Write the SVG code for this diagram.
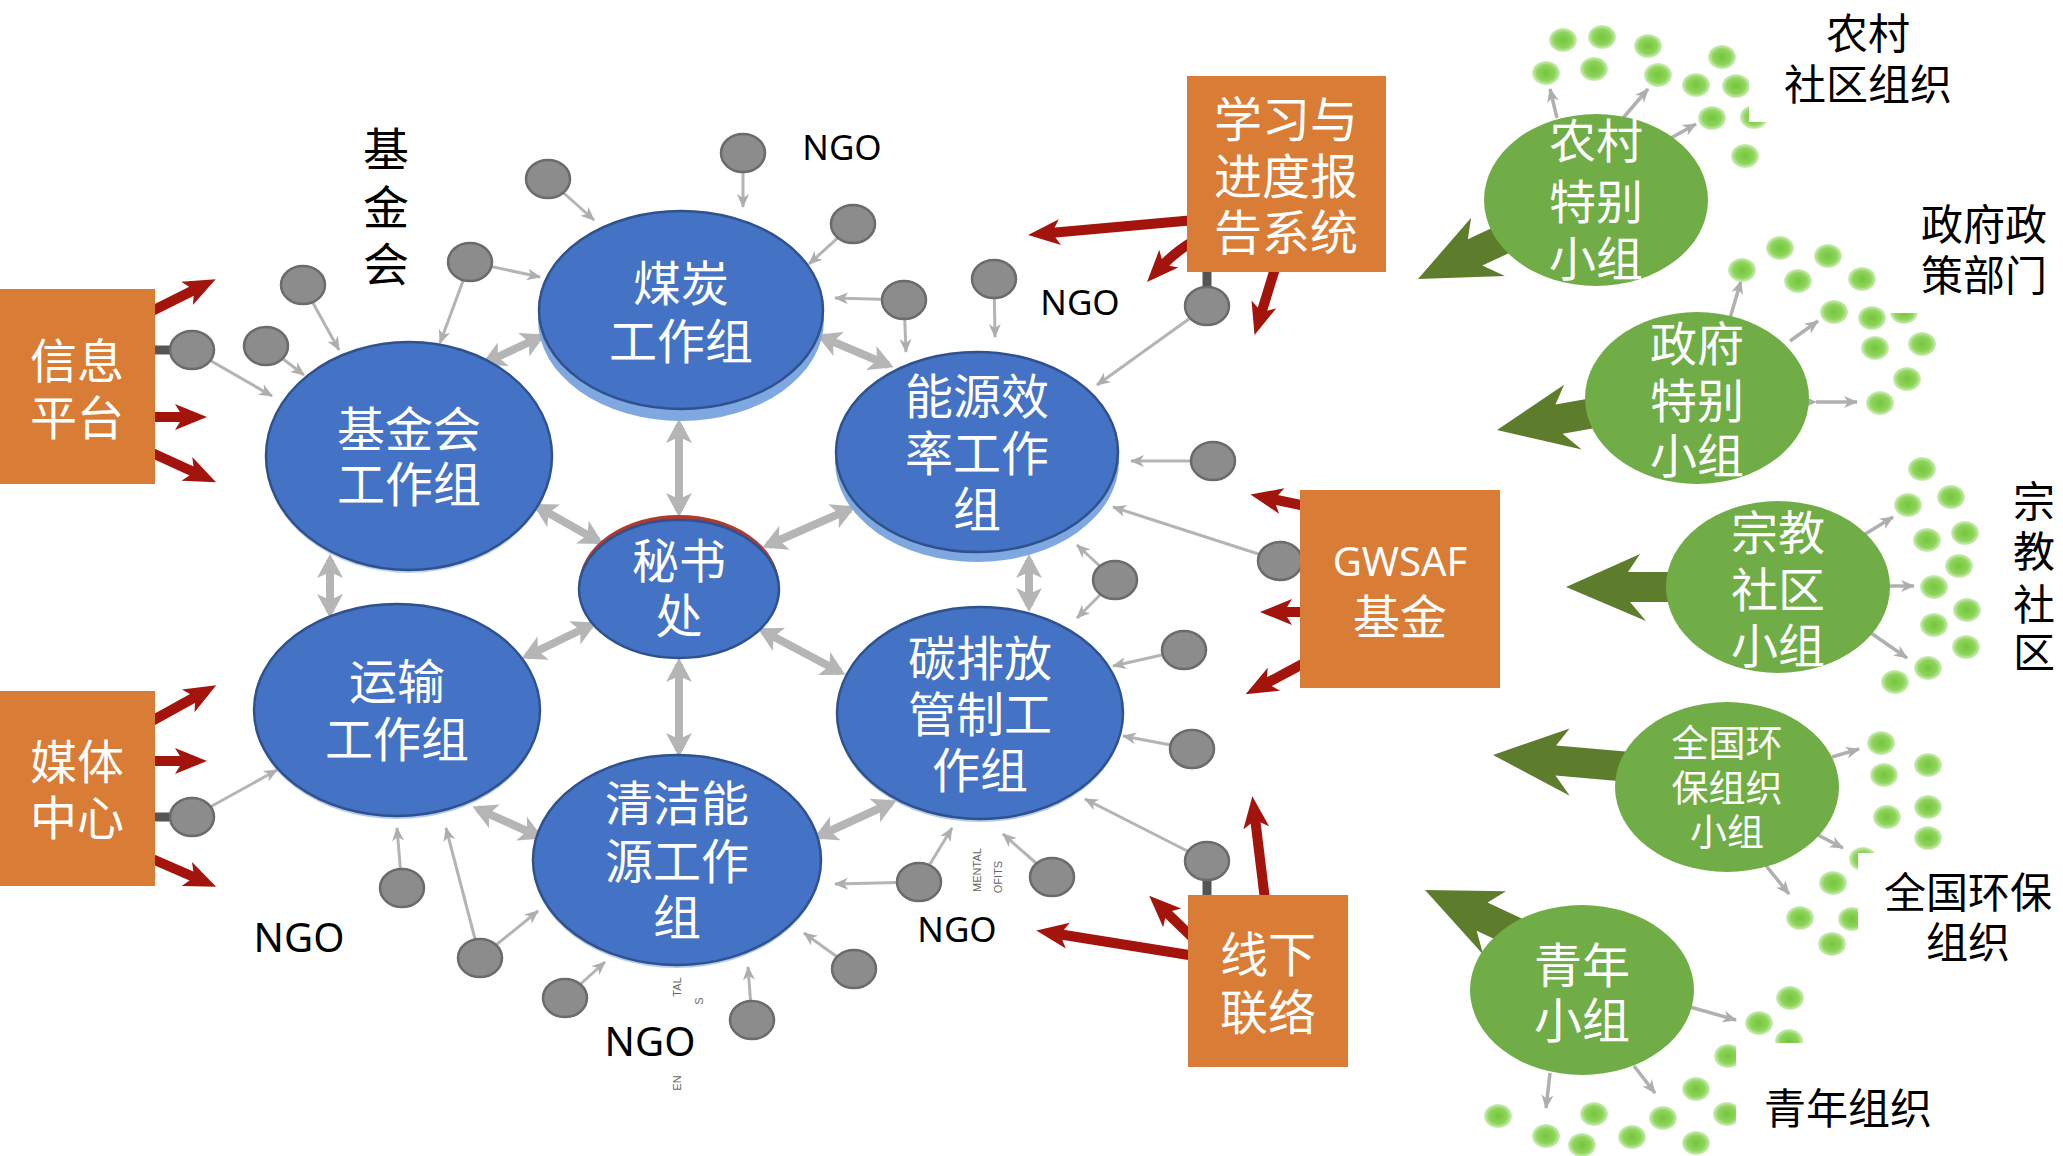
<svg xmlns="http://www.w3.org/2000/svg" width="2063" height="1156" viewBox="0 0 2063 1156">
<style>
.wt{fill:#fff;font-family:"Noto Sans CJK SC","Noto Sans",sans-serif;text-anchor:middle}
.bt{fill:#000;font-family:"Noto Sans CJK SC","Noto Sans",sans-serif;text-anchor:middle}
.ngo{fill:#000;font-family:"Noto Sans","Liberation Sans",sans-serif;text-anchor:middle}
.tiny{fill:#666;font-family:"Liberation Sans",sans-serif;font-size:11px;text-anchor:middle}
.gl{stroke:#B4B4B4;stroke-width:3;fill:none;marker-end:url(#ga)}
.gl2{stroke:#B0B0B0;stroke-width:3.5;fill:none;marker-end:url(#ga)}
.dl{stroke:#B5B5B5;stroke-width:8;fill:none;marker-start:url(#da);marker-end:url(#da)}
.rl{stroke:#A3140C;stroke-width:10;fill:none;marker-end:url(#ra)}
.stub{stroke:#555;stroke-width:9}
.gc{fill:#8C8C8C;stroke:#6B6B6B;stroke-width:2.5}
.gd{fill:url(#gdot)}
.blue{fill:#4472C4;stroke:#2F528F;stroke-width:2.5}
.rim{fill:#7FA8E0}
.org{fill:#D97C35}
.grn{fill:#70AD47}
.garr{fill:#5E7D2C}
</style>
<defs>
<marker id="ga" markerUnits="userSpaceOnUse" markerWidth="14" markerHeight="14" viewBox="0 0 14 14" refX="13" refY="7" orient="auto"><path d="M0,1 L14,7 L0,13 L4,7 Z" fill="#AEAEAE"/></marker>
<marker id="da" markerUnits="userSpaceOnUse" markerWidth="24" markerHeight="26" viewBox="0 0 24 26" refX="18" refY="13" orient="auto-start-reverse"><path d="M0,0 L24,13 L0,26 L6,13 Z" fill="#B5B5B5"/></marker>
<marker id="ra" markerUnits="userSpaceOnUse" markerWidth="32" markerHeight="32" viewBox="0 0 32 32" refX="10" refY="16" orient="auto"><path d="M0,3 L32,16 L0,29 L8,16 Z" fill="#A3140C"/></marker>
<radialGradient id="gdot"><stop offset="0" stop-color="#74C53C"/><stop offset="0.65" stop-color="#8ED55B"/><stop offset="1" stop-color="#D2EEBF"/></radialGradient>
<path id="bigarrow" d="M0,0 L74,-33 L62,-15 L175,-15 L175,15 L64,15 L80,34 Z"/>
</defs>

<g id="connectors">
<line class="dl" x1="487" y1="362" x2="540" y2="337"/>
<line class="dl" x1="538" y1="507" x2="598" y2="541"/>
<line class="dl" x1="679" y1="425" x2="679" y2="511"/>
<line class="dl" x1="822" y1="337" x2="888" y2="365"/>
<line class="dl" x1="768" y1="545" x2="850" y2="509"/>
<line class="dl" x1="1029" y1="560" x2="1029" y2="606"/>
<line class="dl" x1="763" y1="631" x2="840" y2="672"/>
<line class="dl" x1="819" y1="836" x2="891" y2="803"/>
<line class="dl" x1="679" y1="664" x2="679" y2="751"/>
<line class="dl" x1="478" y1="809" x2="538" y2="836"/>
<line class="dl" x1="527" y1="656" x2="591" y2="625"/>
<line class="dl" x1="330" y1="560" x2="330" y2="612"/>
<line class="gl" x1="192" y1="350" x2="272" y2="396"/>
<line class="gl" x1="266" y1="346" x2="304" y2="375"/>
<line class="gl" x1="303" y1="285" x2="339" y2="350"/>
<line class="gl" x1="470" y1="262" x2="440" y2="343"/>
<line class="gl" x1="470" y1="262" x2="540" y2="277"/>
<line class="gl" x1="548" y1="179" x2="594" y2="220"/>
<line class="gl" x1="743" y1="153" x2="743" y2="207"/>
<line class="gl" x1="853" y1="224" x2="809" y2="264"/>
<line class="gl" x1="904" y1="300" x2="835" y2="298"/>
<line class="gl" x1="904" y1="300" x2="906" y2="352"/>
<line class="gl" x1="994" y1="279" x2="995" y2="337"/>
<line class="gl" x1="1207" y1="306" x2="1097" y2="385"/>
<line class="gl" x1="1213" y1="461" x2="1131" y2="461"/>
<line class="gl" x1="1280" y1="561" x2="1113" y2="507"/>
<line class="gl" x1="1115" y1="580" x2="1077" y2="545"/>
<line class="gl" x1="1115" y1="580" x2="1077" y2="618"/>
<line class="gl" x1="1184" y1="650" x2="1113" y2="666"/>
<line class="gl" x1="1192" y1="749" x2="1123" y2="736"/>
<line class="gl" x1="1207" y1="861" x2="1085" y2="799"/>
<line class="gl" x1="1052" y1="877" x2="1003" y2="834"/>
<line class="gl" x1="919" y1="882" x2="952" y2="828"/>
<line class="gl" x1="919" y1="882" x2="835" y2="884"/>
<line class="gl" x1="854" y1="969" x2="804" y2="933"/>
<line class="gl" x1="752" y1="1020" x2="748" y2="967"/>
<line class="gl" x1="565" y1="998" x2="605" y2="962"/>
<line class="gl" x1="480" y1="958" x2="446" y2="828"/>
<line class="gl" x1="480" y1="958" x2="538" y2="911"/>
<line class="gl" x1="402" y1="888" x2="397" y2="828"/>
<line class="gl" x1="192" y1="817" x2="277" y2="770"/>
<line class="stub" x1="150" y1="350" x2="176" y2="350"/>
<line class="stub" x1="150" y1="817" x2="176" y2="817"/>
<line class="stub" x1="1207" y1="268" x2="1207" y2="292"/>
<line class="stub" x1="1207" y1="875" x2="1207" y2="899"/>
<line class="rl" x1="150" y1="312" x2="196" y2="289"/>
<line class="rl" x1="150" y1="417" x2="185" y2="417"/>
<line class="rl" x1="150" y1="452" x2="196" y2="473"/>
<line class="rl" x1="150" y1="722" x2="197" y2="696"/>
<line class="rl" x1="150" y1="761" x2="185" y2="761"/>
<line class="rl" x1="150" y1="858" x2="196" y2="878"/>
<line class="rl" x1="1195" y1="220" x2="1050" y2="233"/>
<path class="rl" d="M1195,240 Q1175,252 1162,266"/>
<line class="rl" x1="1277" y1="262" x2="1261" y2="314"/>
<line class="rl" x1="1310" y1="507" x2="1272" y2="499"/>
<line class="rl" x1="1310" y1="612" x2="1282" y2="612"/>
<line class="rl" x1="1310" y1="660" x2="1265" y2="684"/>
<line class="rl" x1="1265" y1="900" x2="1255" y2="818"/>
<line class="rl" x1="1195" y1="940" x2="1165" y2="911"/>
<line class="rl" x1="1195" y1="956" x2="1058" y2="934"/>
<use href="#bigarrow" class="garr" transform="translate(1418,279) rotate(-25)"/>
<use href="#bigarrow" class="garr" transform="translate(1497,430) rotate(-10)"/>
<use href="#bigarrow" class="garr" transform="translate(1566,587)"/>
<use href="#bigarrow" class="garr" transform="translate(1493,755) rotate(5)"/>
<use href="#bigarrow" class="garr" transform="translate(1425,890) rotate(25)"/>
<line class="gl2" x1="1557" y1="118" x2="1550" y2="89"/>
<line class="gl2" x1="1623" y1="118" x2="1648" y2="89"/>
<line class="gl2" x1="1671" y1="138" x2="1696" y2="124"/>
<line class="gl2" x1="1730" y1="318" x2="1741" y2="281"/>
<line class="gl2" x1="1790" y1="341" x2="1818" y2="321"/>
<line class="gl2" x1="1816" y1="402" x2="1857" y2="402" style="marker-start:url(#ga)"/>
<line class="gl2" x1="1862" y1="536" x2="1893" y2="517"/>
<line class="gl2" x1="1888" y1="586" x2="1914" y2="586"/>
<line class="gl2" x1="1868" y1="631" x2="1907" y2="658"/>
<line class="gl2" x1="1832" y1="757" x2="1859" y2="749"/>
<line class="gl2" x1="1816" y1="834" x2="1843" y2="848"/>
<line class="gl2" x1="1763" y1="862" x2="1789" y2="894"/>
<line class="gl2" x1="1690" y1="1007" x2="1736" y2="1020"/>
<line class="gl2" x1="1550" y1="1073" x2="1546" y2="1108"/>
<line class="gl2" x1="1634" y1="1066" x2="1655" y2="1093"/>
</g>

<g id="ngo-nodes">
<ellipse class="gc" cx="192" cy="350" rx="22" ry="19"/>
<ellipse class="gc" cx="266" cy="346" rx="22" ry="19"/>
<ellipse class="gc" cx="303" cy="285" rx="22" ry="19"/>
<ellipse class="gc" cx="470" cy="262" rx="22" ry="19"/>
<ellipse class="gc" cx="548" cy="179" rx="22" ry="19"/>
<ellipse class="gc" cx="743" cy="153" rx="22" ry="19"/>
<ellipse class="gc" cx="853" cy="224" rx="22" ry="19"/>
<ellipse class="gc" cx="904" cy="300" rx="22" ry="19"/>
<ellipse class="gc" cx="994" cy="279" rx="22" ry="19"/>
<ellipse class="gc" cx="1207" cy="306" rx="22" ry="19"/>
<ellipse class="gc" cx="1213" cy="461" rx="22" ry="19"/>
<ellipse class="gc" cx="1280" cy="561" rx="22" ry="19"/>
<ellipse class="gc" cx="1115" cy="580" rx="22" ry="19"/>
<ellipse class="gc" cx="1184" cy="650" rx="22" ry="19"/>
<ellipse class="gc" cx="1192" cy="749" rx="22" ry="19"/>
<ellipse class="gc" cx="1207" cy="861" rx="22" ry="19"/>
<ellipse class="gc" cx="1052" cy="877" rx="22" ry="19"/>
<ellipse class="gc" cx="919" cy="882" rx="22" ry="19"/>
<ellipse class="gc" cx="854" cy="969" rx="22" ry="19"/>
<ellipse class="gc" cx="752" cy="1020" rx="22" ry="19"/>
<ellipse class="gc" cx="565" cy="998" rx="22" ry="19"/>
<ellipse class="gc" cx="480" cy="958" rx="22" ry="19"/>
<ellipse class="gc" cx="402" cy="888" rx="22" ry="19"/>
<ellipse class="gc" cx="192" cy="817" rx="22" ry="19"/>
</g>

<g id="green-dots">
<ellipse class="gd" cx="1563" cy="40" rx="14" ry="12"/>
<ellipse class="gd" cx="1602" cy="37" rx="14" ry="12"/>
<ellipse class="gd" cx="1648" cy="46" rx="14" ry="12"/>
<ellipse class="gd" cx="1546" cy="73" rx="14" ry="12"/>
<ellipse class="gd" cx="1594" cy="69" rx="14" ry="12"/>
<ellipse class="gd" cx="1658" cy="75" rx="14" ry="12"/>
<ellipse class="gd" cx="1722" cy="57" rx="14" ry="12"/>
<ellipse class="gd" cx="1696" cy="85" rx="14" ry="12"/>
<ellipse class="gd" cx="1736" cy="86" rx="14" ry="12"/>
<ellipse class="gd" cx="1712" cy="118" rx="14" ry="12"/>
<ellipse class="gd" cx="1754" cy="117" rx="14" ry="12"/>
<ellipse class="gd" cx="1745" cy="156" rx="14" ry="12"/>
<ellipse class="gd" cx="1780" cy="248" rx="14" ry="12"/>
<ellipse class="gd" cx="1828" cy="256" rx="14" ry="12"/>
<ellipse class="gd" cx="1742" cy="270" rx="14" ry="12"/>
<ellipse class="gd" cx="1798" cy="281" rx="14" ry="12"/>
<ellipse class="gd" cx="1862" cy="279" rx="14" ry="12"/>
<ellipse class="gd" cx="1834" cy="312" rx="14" ry="12"/>
<ellipse class="gd" cx="1872" cy="318" rx="14" ry="12"/>
<ellipse class="gd" cx="1904" cy="312" rx="14" ry="12"/>
<ellipse class="gd" cx="1875" cy="348" rx="14" ry="12"/>
<ellipse class="gd" cx="1922" cy="344" rx="14" ry="12"/>
<ellipse class="gd" cx="1907" cy="379" rx="14" ry="12"/>
<ellipse class="gd" cx="1880" cy="403" rx="14" ry="12"/>
<ellipse class="gd" cx="1922" cy="469" rx="14" ry="12"/>
<ellipse class="gd" cx="1908" cy="505" rx="14" ry="12"/>
<ellipse class="gd" cx="1951" cy="497" rx="14" ry="12"/>
<ellipse class="gd" cx="1927" cy="540" rx="14" ry="12"/>
<ellipse class="gd" cx="1965" cy="533" rx="14" ry="12"/>
<ellipse class="gd" cx="1959" cy="566" rx="14" ry="12"/>
<ellipse class="gd" cx="1934" cy="587" rx="14" ry="12"/>
<ellipse class="gd" cx="1967" cy="610" rx="14" ry="12"/>
<ellipse class="gd" cx="1934" cy="625" rx="14" ry="12"/>
<ellipse class="gd" cx="1966" cy="647" rx="14" ry="12"/>
<ellipse class="gd" cx="1928" cy="668" rx="14" ry="12"/>
<ellipse class="gd" cx="1895" cy="682" rx="14" ry="12"/>
<ellipse class="gd" cx="1881" cy="743" rx="14" ry="12"/>
<ellipse class="gd" cx="1928" cy="765" rx="14" ry="12"/>
<ellipse class="gd" cx="1884" cy="775" rx="14" ry="12"/>
<ellipse class="gd" cx="1887" cy="817" rx="14" ry="12"/>
<ellipse class="gd" cx="1928" cy="807" rx="14" ry="12"/>
<ellipse class="gd" cx="1928" cy="838" rx="14" ry="12"/>
<ellipse class="gd" cx="1863" cy="859" rx="14" ry="12"/>
<ellipse class="gd" cx="1833" cy="883" rx="14" ry="12"/>
<ellipse class="gd" cx="1800" cy="918" rx="14" ry="12"/>
<ellipse class="gd" cx="1852" cy="919" rx="14" ry="12"/>
<ellipse class="gd" cx="1832" cy="944" rx="14" ry="12"/>
<ellipse class="gd" cx="1790" cy="998" rx="14" ry="12"/>
<ellipse class="gd" cx="1759" cy="1023" rx="14" ry="12"/>
<ellipse class="gd" cx="1789" cy="1041" rx="14" ry="12"/>
<ellipse class="gd" cx="1728" cy="1056" rx="14" ry="12"/>
<ellipse class="gd" cx="1696" cy="1089" rx="14" ry="12"/>
<ellipse class="gd" cx="1727" cy="1114" rx="14" ry="12"/>
<ellipse class="gd" cx="1498" cy="1116" rx="14" ry="12"/>
<ellipse class="gd" cx="1546" cy="1136" rx="14" ry="12"/>
<ellipse class="gd" cx="1594" cy="1114" rx="14" ry="12"/>
<ellipse class="gd" cx="1582" cy="1145" rx="14" ry="12"/>
<ellipse class="gd" cx="1632" cy="1137" rx="14" ry="12"/>
<ellipse class="gd" cx="1663" cy="1118" rx="14" ry="12"/>
<ellipse class="gd" cx="1696" cy="1143" rx="14" ry="12"/>
</g>

<g id="label-backgrounds" fill="#fff">
<rect x="1749" y="0" width="314" height="122"/>
<rect x="1889" y="176" width="174" height="137"/>
<rect x="1990" y="470" width="73" height="215"/>
<rect x="1858" y="853" width="205" height="116"/>
<rect x="1736" y="1043" width="327" height="113"/>
</g>

<g id="node-jijinhui-wg">
<ellipse cx="409" cy="459" rx="143" ry="114" class="rim" opacity="0.5"/>
<ellipse cx="409" cy="456" rx="143" ry="114" class="blue"/>
<text class="wt" font-size="48"><tspan x="409" y="447">基金会</tspan><tspan x="409" y="502">工作组</tspan></text>
</g>
<g id="node-coal-wg">
<ellipse cx="681" cy="320" rx="143" ry="101" class="rim"/>
<ellipse cx="681" cy="310" rx="142" ry="99" class="blue"/>
<text class="wt" font-size="48"><tspan x="681" y="301">煤炭</tspan><tspan x="681" y="359">工作组</tspan></text>
</g>
<g id="node-efficiency-wg">
<ellipse cx="977" cy="461" rx="142" ry="101" class="rim"/>
<ellipse cx="977" cy="452" rx="141" ry="100" class="blue"/>
<text class="wt" font-size="48"><tspan x="977" y="414">能源效</tspan><tspan x="977" y="471">率工作</tspan><tspan x="977" y="527">组</tspan></text>
</g>
<g id="node-secretariat">
<ellipse cx="679" cy="585" rx="100" ry="70" fill="#B03A2E"/>
<ellipse cx="679" cy="589" rx="100" ry="69" class="blue"/>
<text class="wt" font-size="47"><tspan x="679" y="578">秘书</tspan><tspan x="679" y="633">处</tspan></text>
</g>
<g id="node-transport-wg">
<ellipse cx="397" cy="713" rx="143" ry="106" class="rim" opacity="0.6"/>
<ellipse cx="397" cy="710" rx="143" ry="106" class="blue"/>
<text class="wt" font-size="48"><tspan x="397" y="699">运输</tspan><tspan x="397" y="757">工作组</tspan></text>
</g>
<g id="node-clean-energy-wg">
<ellipse cx="677" cy="863" rx="144" ry="105" class="rim" opacity="0.6"/>
<ellipse cx="677" cy="860" rx="144" ry="105" class="blue"/>
<text class="wt" font-size="48"><tspan x="677" y="821">清洁能</tspan><tspan x="677" y="879">源工作</tspan><tspan x="677" y="935">组</tspan></text>
</g>
<g id="node-carbon-wg">
<ellipse cx="980" cy="716" rx="143" ry="106" class="rim" opacity="0.6"/>
<ellipse cx="980" cy="713" rx="143" ry="106" class="blue"/>
<text class="wt" font-size="48"><tspan x="980" y="676">碳排放</tspan><tspan x="980" y="732">管制工</tspan><tspan x="980" y="788">作组</tspan></text>
</g>

<g id="node-info-platform">
<rect class="org" x="0" y="289" width="155" height="195"/>
<text class="wt" font-size="47"><tspan x="77" y="378">信息</tspan><tspan x="77" y="435">平台</tspan></text>
</g>
<g id="node-media-center">
<rect class="org" x="0" y="691" width="155" height="195"/>
<text class="wt" font-size="47"><tspan x="77" y="779">媒体</tspan><tspan x="77" y="835">中心</tspan></text>
</g>
<g id="node-learning-system">
<rect class="org" x="1187" y="76" width="199" height="196"/>
<text class="wt" font-size="48"><tspan x="1286" y="137">学习与</tspan><tspan x="1286" y="194">进度报</tspan><tspan x="1286" y="250">告系统</tspan></text>
</g>
<g id="node-gwsaf">
<rect class="org" x="1300" y="490" width="200" height="198"/>
<text class="wt" font-size="40"><tspan x="1400" y="576" style="font-family:'Noto Sans','Open Sans',sans-serif">GWSAF</tspan><tspan x="1400" y="634" font-size="47">基金</tspan></text>
</g>
<g id="node-offline">
<rect class="org" x="1188" y="895" width="160" height="172"/>
<text class="wt" font-size="48"><tspan x="1268" y="972">线下</tspan><tspan x="1268" y="1030">联络</tspan></text>
</g>

<g id="node-rural">
<ellipse class="grn" cx="1596" cy="200" rx="112" ry="86"/>
<text class="wt" font-size="47"><tspan x="1596" y="158">农村</tspan><tspan x="1596" y="219">特别</tspan><tspan x="1596" y="276">小组</tspan></text>
</g>
<g id="node-gov">
<ellipse class="grn" cx="1697" cy="398" rx="112" ry="86"/>
<text class="wt" font-size="47"><tspan x="1697" y="361">政府</tspan><tspan x="1697" y="418">特别</tspan><tspan x="1697" y="473">小组</tspan></text>
</g>
<g id="node-religious">
<ellipse class="grn" cx="1778" cy="587" rx="112" ry="86"/>
<text class="wt" font-size="47"><tspan x="1778" y="550">宗教</tspan><tspan x="1778" y="607">社区</tspan><tspan x="1778" y="663">小组</tspan></text>
</g>
<g id="node-env-org">
<ellipse class="grn" cx="1727" cy="787" rx="112" ry="85"/>
<text class="wt" font-size="37"><tspan x="1727" y="757">全国环</tspan><tspan x="1727" y="802">保组织</tspan><tspan x="1727" y="846">小组</tspan></text>
</g>
<g id="node-youth">
<ellipse class="grn" cx="1582" cy="990" rx="112" ry="85"/>
<text class="wt" font-size="48"><tspan x="1582" y="983">青年</tspan><tspan x="1582" y="1038">小组</tspan></text>
</g>

<g id="labels">
<text class="bt" font-size="46"><tspan x="386" y="166">基</tspan><tspan x="386" y="224">金</tspan><tspan x="386" y="281">会</tspan></text>
<text class="ngo" x="842" y="160" font-size="35">NGO</text>
<text class="ngo" x="1080" y="315" font-size="35">NGO</text>
<text class="ngo" x="957" y="942" font-size="35">NGO</text>
<text class="ngo" x="299" y="952" font-size="40">NGO</text>
<text class="ngo" x="650" y="1056" font-size="40">NGO</text>
<text class="bt" font-size="42"><tspan x="1868" y="49">农村</tspan><tspan x="1868" y="100">社区组织</tspan></text>
<text class="bt" font-size="42"><tspan x="1984" y="240">政府政</tspan><tspan x="1984" y="291">策部门</tspan></text>
<text class="bt" font-size="42"><tspan x="2034" y="517">宗</tspan><tspan x="2034" y="567">教</tspan><tspan x="2034" y="620">社</tspan><tspan x="2034" y="668">区</tspan></text>
<text class="bt" font-size="42"><tspan x="1968" y="908">全国环保</tspan><tspan x="1968" y="958">组织</tspan></text>
<text class="bt" x="1848" y="1124" font-size="42">青年组织</text>
<text class="tiny" transform="translate(981,870) rotate(-90)">MENTAL</text>
<text class="tiny" transform="translate(1002,877) rotate(-90)">OFITS</text>
<text class="tiny" transform="translate(681,987) rotate(-90)">TAL</text>
<text class="tiny" transform="translate(703,1001) rotate(-90)">S</text>
<text class="tiny" transform="translate(681,1083) rotate(-90)">EN</text>
</g>
</svg>
